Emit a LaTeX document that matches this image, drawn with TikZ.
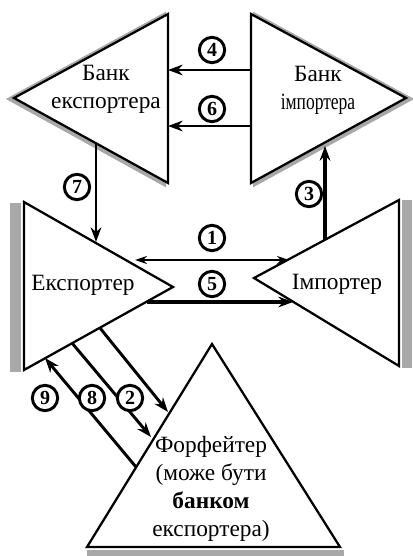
\documentclass[tikz,border=0pt]{standalone}
\usepackage{fontspec}
\setmainfont{Liberation Serif}
\usetikzlibrary{arrows.meta,calc}
\definecolor{shadegray}{RGB}{168,168,168}
\begin{document}
\begin{tikzpicture}[x=0.75pt,y=-0.75pt,
  tri/.style={draw=black,fill=white,line width=1.7pt,line join=miter},
  shadowline/.style={draw=shadegray,line width=3pt,line join=miter},
  bar/.style={fill=shadegray,draw=none},
  arr/.style={line width=2.2pt,-{Stealth[length=11pt,width=8pt]}},
  num/.style={circle,draw,line width=2.2pt,minimum size=19pt,inner sep=0pt,fill=white,
    font=\bfseries\fontsize{15}{15}\selectfont},
  lbl/.style={align=center,inner sep=0pt,font=\fontsize{17.5}{21}\selectfont}]
\useasboundingbox (0,0) rectangle (412,556);

% Bank of exporter
\draw[shadowline] (10,99) -- (164,15) -- (164,184) -- cycle;
\draw[tri] (14,98) -- (168,14) -- (168,183) -- cycle;
\node[lbl] (BEt) at (106,89) {Банк\\експортера};

% Bank of importer
\draw[shadowline] (410,99) -- (255,15) -- (255,184) -- cycle;
\draw[tri] (406,98) -- (251,14) -- (251,183) -- cycle;
\node[lbl] (BIt) at (318,90) {Банк\\\scalebox{0.75}[1]{імпортера}};

% Exporter
\fill[bar] (10,203) rectangle (21,372);
\draw[tri] (24,202) -- (173,287) -- (24,370) -- cycle;
\node[lbl] (EXt) at (83,285) {Експортер};

% Importer
\fill[bar] (402,200) rectangle (412,368);
\draw[tri] (399,200) -- (254,278) -- (399,366) -- cycle;
\node[lbl] (IMt) at (337,284) {Імпортер};

% Forfeiter
\fill[bar] (87,550) rectangle (344,556);
\draw[tri] (212,344) -- (340,547) -- (87,547) -- cycle;
\node[lbl] (FFt) at (211,489) {Форфейтер\\(може бути\\{\bfseries банком}\\експортера)};

% connector end points
\coordinate (a4s) at (251,70);  \coordinate (a4e) at (168,70);
\coordinate (a6s) at (251,126); \coordinate (a6e) at (168,126);
\coordinate (a7s) at (96,143);  \coordinate (a7e) at (96,242);
\coordinate (a3s) at (325,240); \coordinate (a3e) at (325,146);
\coordinate (a1s) at (135,260); \coordinate (a1e) at (289,260);
\coordinate (a5s) at (147,302); \coordinate (a5e) at (293,302);
\coordinate (a2s) at (100,328); \coordinate (a2e) at (168,412);
\coordinate (a8s) at (72,343);  \coordinate (a8e) at (151,437);
\coordinate (a9s) at (45,358);  \coordinate (a9e) at (136,467);

\draw[arr] (a4s) -- (a4e);
\draw[arr] (a6s) -- (a6e);
\draw[arr] (a7s) -- (a7e);
\draw[arr,line width=2.8pt] (a3s) -- (a3e);
\draw[line width=1.6pt,{Stealth[length=9pt,width=6pt]}-{Stealth[length=9pt,width=6pt]}] (a1s) -- (a1e);
\draw[arr,line width=2.6pt] (a5s) -- (a5e);
\draw[arr] (a2s) -- (a2e);
\draw[arr] (a8s) -- (a8e);
\draw[arr] (a9e) -- (a9s);

% number labels
\node[num] (n4) at (212,50) {4};
\node[num] (n6) at (212,109) {6};
\node[num] (n7) at (77,187) {7};
\node[num] (n3) at (309,194) {3};
\node[num] (n1) at (212,238) {1};
\node[num] (n5) at (212,284) {5};
\node[num] (n9) at (45,398) {9};
\node[num] (n8) at (92,398) {8};
\node[num] (n2) at (130,398) {2};
\end{tikzpicture}
\end{document}
